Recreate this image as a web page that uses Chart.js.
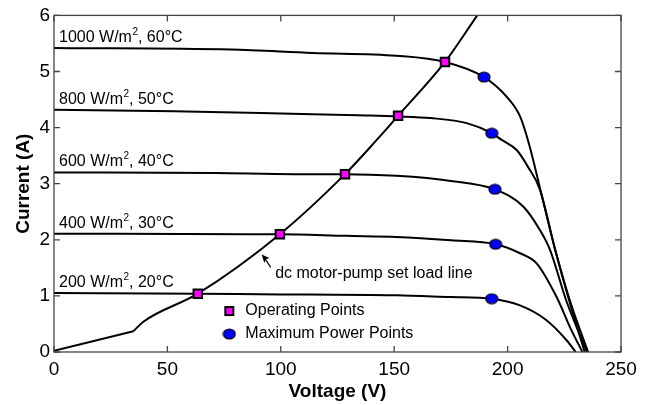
<!DOCTYPE html>
<html>
<head>
<meta charset="utf-8">
<script src="https://cdn.jsdelivr.net/npm/chart.js@4.4.1/dist/chart.umd.min.js"></script>
<style>
  html, body { margin: 0; padding: 0; background: #fff; }
</style>
</head>
<body>
<canvas id="ivChart" width="650" height="405"></canvas>
<script>
// axis ticks
const xTicks = [0, 50, 100, 150, 200, 250];
const yTicks = [0, 1, 2, 3, 4, 5, 6];

// irradiance / cell temperature for each I-V curve
const irradiance = ["1000", "800", "600", "400", "200"];
const cellTemp = ["60", "50", "40", "30", "20"];

// I-V curves, [voltage, current]
const iv1000 = [[0, 5.42], [78, 5.39], [114, 5.33], [151, 5.28], [172.4, 5.17], [189.6, 4.90], [199.6, 4.55], [205.5, 4.20], [209.5, 3.70], [215, 2.80], [221, 1.82], [228, 0.80], [234, 0]];
const iv800 = [[0, 4.32], [53, 4.29], [91, 4.26], [114, 4.24], [134, 4.22], [151.7, 4.20], [166, 4.17], [182, 4.08], [193, 3.90], [197.4, 3.78], [204, 3.60], [209, 3.30], [214.3, 2.89], [221, 1.82], [228, 0.85], [235.5, 0]];
const iv600 = [[0, 3.20], [71, 3.19], [106, 3.17], [128.3, 3.17], [151, 3.14], [175, 3.05], [194.4, 2.90], [207, 2.59], [214.3, 2.17], [218.7, 1.82], [226, 0.90], [235, 0]];
const iv400 = [[0, 2.11], [85, 2.10], [99.6, 2.10], [129, 2.07], [151, 2.05], [175, 1.99], [194.7, 1.92], [205.5, 1.76], [212.8, 1.58], [221.6, 0.98], [228, 0.40], [233, 0]];
const iv200 = [[0, 1.05], [63.4, 1.04], [91, 1.03], [151, 1.01], [175, 0.98], [193, 0.95], [205.5, 0.83], [217, 0.57], [226, 0.21], [230, 0]];
const ivCurves = [iv1000, iv800, iv600, iv400, iv200];

// dc motor-pump set load line: straight start-up part, then the running part
const loadStart = [[0, 0.02], [35, 0.37]];
const loadRun = [[35, 0.37], [39.4, 0.54], [63.4, 1.04], [99.6, 2.10], [128.3, 3.17], [142.3, 3.78], [151.7, 4.21], [172.4, 5.17], [186.6, 6.0]];

const operatingPoints = [[63.4, 1.04], [99.6, 2.10], [128.3, 3.17], [151.7, 4.21], [172.4, 5.17]];
const maxPowerPoints = [[189.6, 4.90], [193, 3.90], [194.4, 2.90], [194.7, 1.92], [193, 0.95]];

const FONT = '"Liberation Sans", Arial, sans-serif';

const toXY = arr => arr.map(p => ({ x: p[0], y: p[1] }));

// blue ellipse used for the max power markers
function makeEllipse() {
  const c = document.createElement("canvas");
  c.width = 14; c.height = 12;
  const g = c.getContext("2d");
  g.beginPath();
  g.ellipse(7, 6, 6, 5, 0, 0, Math.PI * 2);
  g.fillStyle = "#0000ff";
  g.fill();
  g.lineWidth = 1.2;
  g.strokeStyle = "#000";
  g.stroke();
  return c;
}
const ellipseImg = makeEllipse();

const lineSet = (label, pts, mode) => ({
  label,
  data: toXY(pts),
  showLine: true,
  borderColor: "#000",
  borderWidth: 2,
  pointRadius: 0,
  tension: 0,
  cubicInterpolationMode: mode
});

const datasets = [
  {
    label: "Operating Points",
    data: toXY(operatingPoints),
    showLine: false,
    pointStyle: "rect",
    pointRadius: 6,
    pointBackgroundColor: "#ff00ff",
    pointBorderColor: "#000",
    pointBorderWidth: 2
  },
  {
    label: "Maximum Power Points",
    data: toXY(maxPowerPoints),
    showLine: false,
    pointStyle: ellipseImg,
    pointRadius: 6
  },
  lineSet("load line start", loadStart, "default"),
  lineSet("load line", loadRun, "monotone")
];
ivCurves.forEach((c, i) => {
  datasets.push(lineSet(irradiance[i] + " W/m2", c, "monotone"));
});

// frame, inward ticks, curve labels, annotation and legend
const decorPlugin = {
  id: "decor",
  afterDatasetsDraw(chart) {
    const { ctx, chartArea: a, scales: { x, y } } = chart;
    ctx.save();

    ctx.strokeStyle = "#444";
    ctx.lineWidth = 1.3;
    ctx.beginPath();
    xTicks.forEach(v => {
      const px = x.getPixelForValue(v);
      ctx.moveTo(px, a.bottom); ctx.lineTo(px, a.bottom - 6);
      ctx.moveTo(px, a.top); ctx.lineTo(px, a.top + 6);
    });
    yTicks.forEach(v => {
      const py = y.getPixelForValue(v);
      ctx.moveTo(a.left, py); ctx.lineTo(a.left + 6, py);
      ctx.moveTo(a.right, py); ctx.lineTo(a.right - 6, py);
    });
    ctx.stroke();
    ctx.strokeRect(a.left, a.top, a.right - a.left, a.bottom - a.top);

    // curve labels
    ctx.fillStyle = "#000";
    ctx.textBaseline = "alphabetic";
    ivCurves.forEach((c, i) => {
      let px = x.getPixelForValue(0) + 5;
      const py = y.getPixelForValue(c[0][1]) - 6;
      ctx.font = "16px " + FONT;
      let s = irradiance[i] + " W/m";
      ctx.fillText(s, px, py);
      px += ctx.measureText(s).width;
      ctx.font = "10px " + FONT;
      ctx.fillText("2", px + 0.5, py - 7);
      px += ctx.measureText("2").width + 0.5;
      ctx.font = "16px " + FONT;
      ctx.fillText(", " + cellTemp[i] + "\u00B0C", px, py);
    });

    // load line annotation with arrow
    ctx.font = "16px " + FONT;
    ctx.fillText("dc motor-pump set load line", x.getPixelForValue(97.5), y.getPixelForValue(1.32));
    const tx = x.getPixelForValue(91.6), ty = y.getPixelForValue(1.74);
    ctx.strokeStyle = "#000";
    ctx.lineWidth = 1.2;
    ctx.beginPath();
    ctx.moveTo(tx + 3, ty + 4);
    ctx.lineTo(tx + 9, ty + 13);
    ctx.stroke();
    ctx.beginPath();
    ctx.moveTo(tx, ty);
    ctx.lineTo(tx + 7.5, ty + 3.5);
    ctx.lineTo(tx + 4, ty + 5);
    ctx.lineTo(tx + 2.5, ty + 8.5);
    ctx.closePath();
    ctx.fill();

    // legend
    const lx = x.getPixelForValue(77.3);
    const ly1 = y.getPixelForValue(0.73);
    const ly2 = y.getPixelForValue(0.32);
    ctx.fillStyle = "#ff00ff";
    ctx.fillRect(lx - 4, ly1 - 4, 8, 8);
    ctx.strokeStyle = "#000";
    ctx.lineWidth = 2;
    ctx.strokeRect(lx - 4, ly1 - 4, 8, 8);
    ctx.drawImage(ellipseImg, lx - 7, ly2 - 6);
    ctx.fillStyle = "#000";
    ctx.font = "16px " + FONT;
    ctx.textBaseline = "middle";
    ctx.fillText("Operating Points", lx + 16, ly1);
    ctx.fillText("Maximum Power Points", lx + 16, ly2);

    ctx.restore();
  }
};

new Chart(document.getElementById("ivChart"), {
  type: "scatter",
  data: { datasets },
  options: {
    responsive: false,
    animation: false,
    devicePixelRatio: 1,
    layout: { padding: { top: 15, right: 29, left: 0, bottom: 0 } },
    plugins: { legend: { display: false }, tooltip: { enabled: false } },
    scales: {
      x: {
        type: "linear",
        min: 0, max: 250,
        afterBuildTicks: s => { s.ticks = xTicks.map(v => ({ value: v })); },
        afterFit: s => { s.height = 53; },
        grid: { display: false, drawTicks: false },
        border: { display: false },
        ticks: { color: "#000", padding: 6, font: { family: FONT, size: 19 } },
        title: {
          display: true, text: "Voltage (V)", color: "#000",
          padding: { top: 0, bottom: 2 },
          font: { family: FONT, size: 19, weight: "bold" }
        }
      },
      y: {
        type: "linear",
        min: 0, max: 6,
        afterBuildTicks: s => { s.ticks = yTicks.map(v => ({ value: v })); },
        afterFit: s => { s.width = 54; },
        grid: { display: false, drawTicks: false },
        border: { display: false },
        ticks: { color: "#000", padding: 4, font: { family: FONT, size: 19 } },
        title: {
          display: true, text: "Current (A)", color: "#000",
          padding: { top: 12, bottom: 0 },
          font: { family: FONT, size: 19, weight: "bold" }
        }
      }
    }
  },
  plugins: [decorPlugin]
});
</script>
</body>
</html>
